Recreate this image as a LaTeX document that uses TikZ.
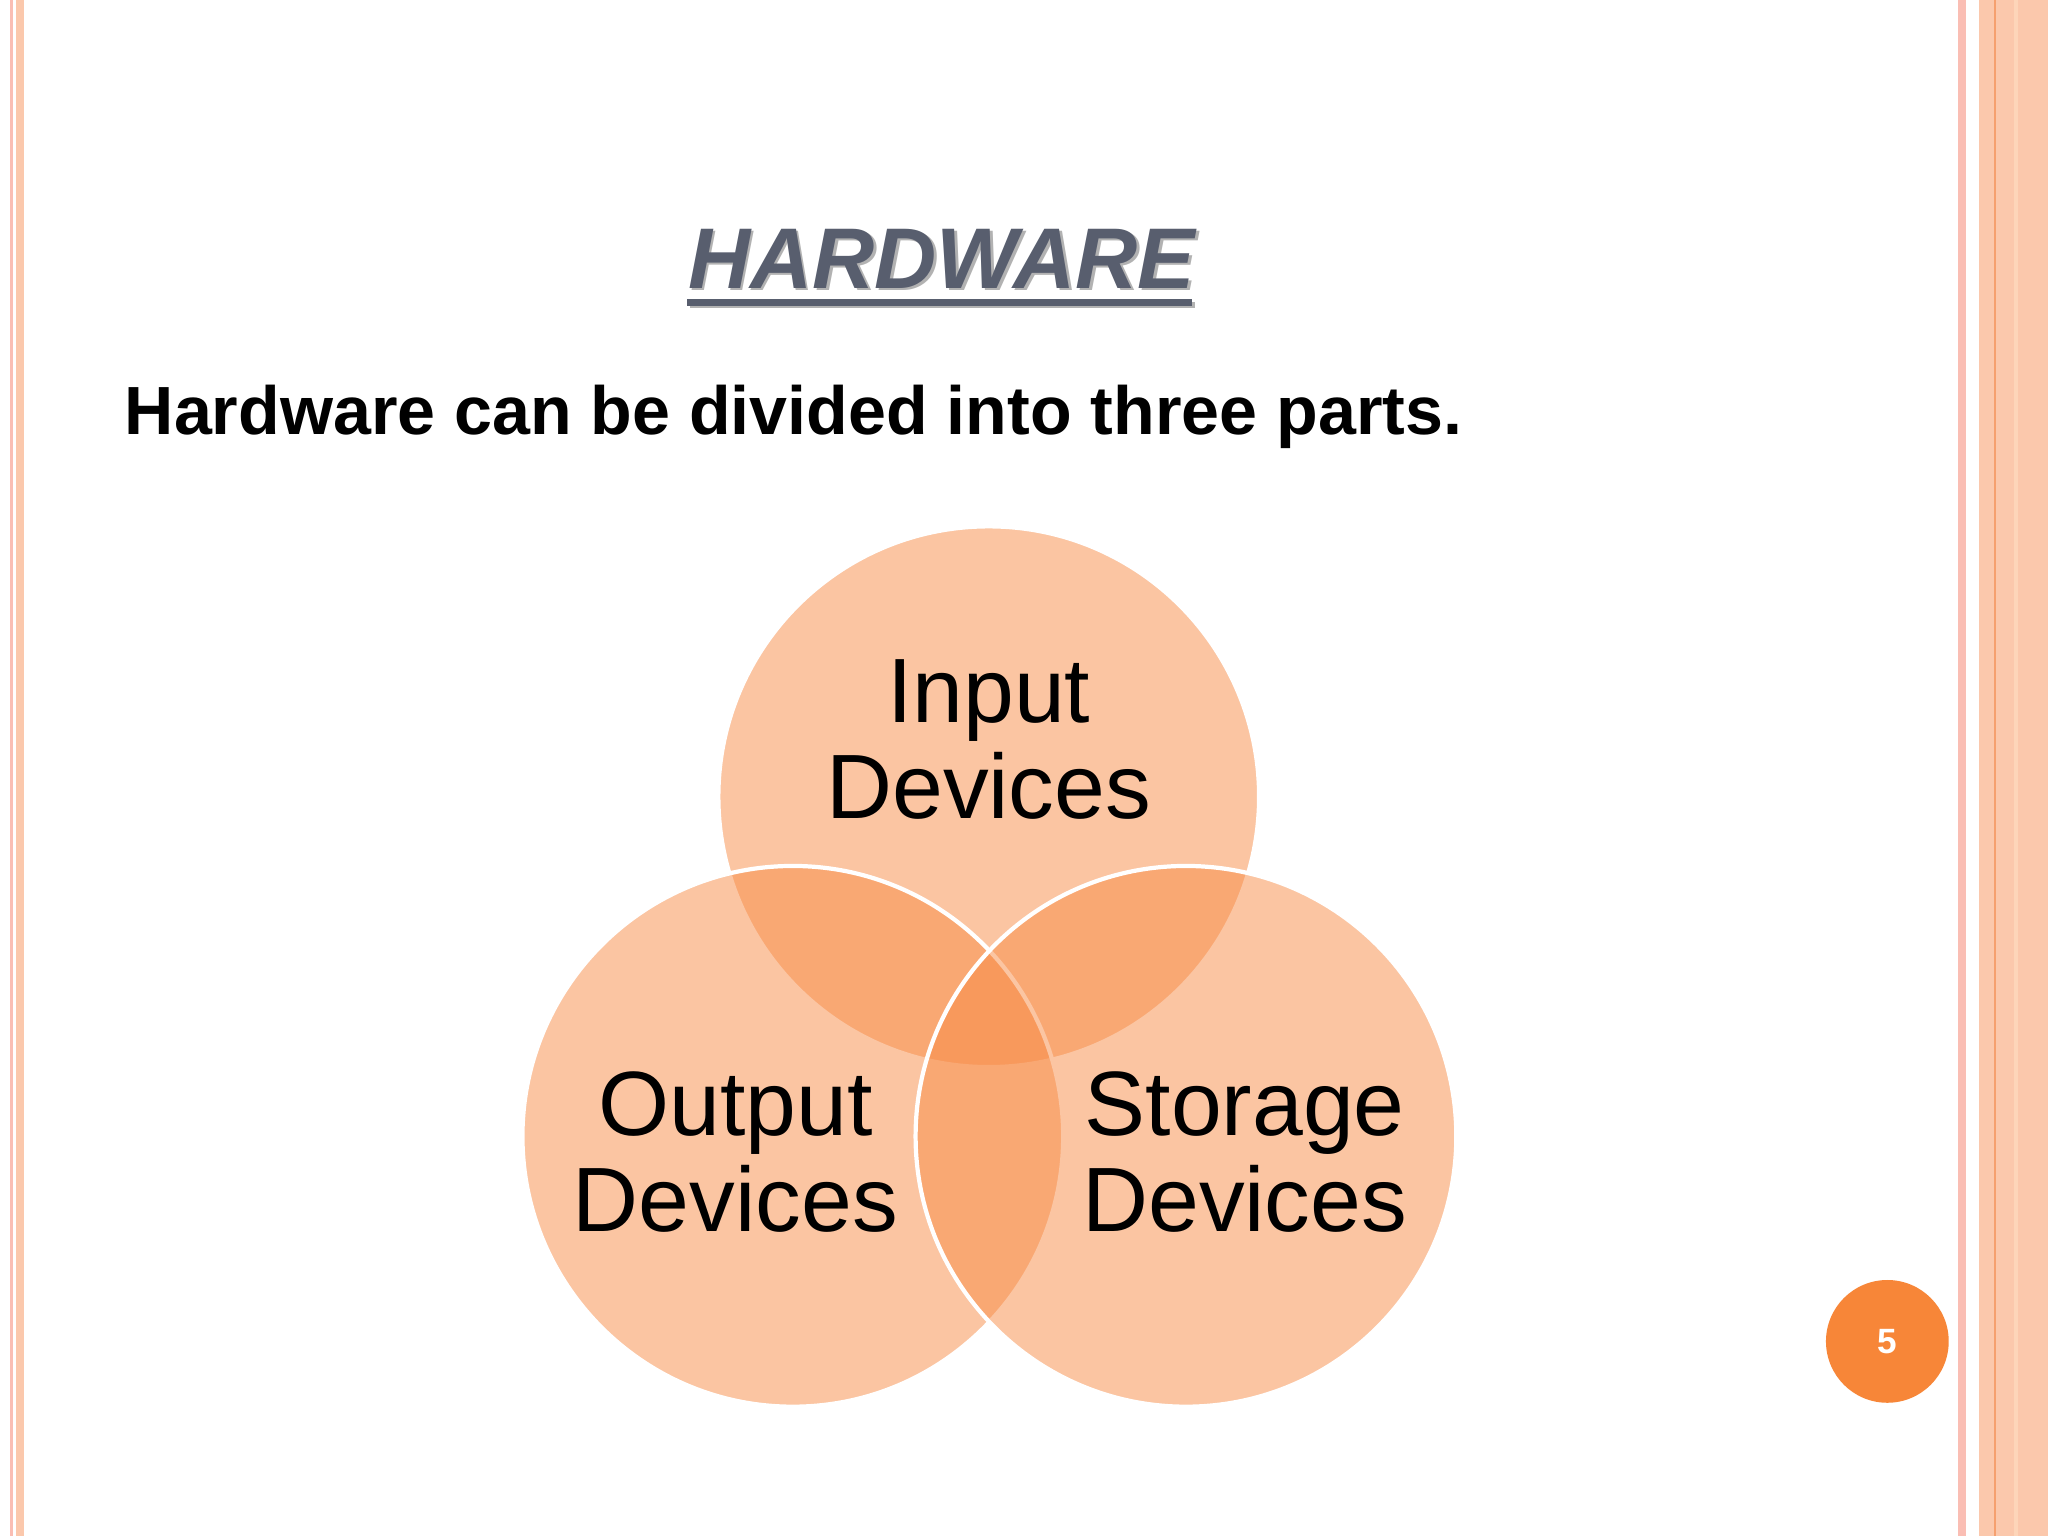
\documentclass[tikz,border=0pt]{standalone}
\usepackage{fontspec}
\setmainfont{Liberation Sans}
\definecolor{peach}{RGB}{251,200,172}
\definecolor{pinkl}{RGB}{250,190,180}
\definecolor{darkor}{RGB}{240,120,50}
\definecolor{circor}{RGB}{248,140,70}
\definecolor{numor}{RGB}{247,134,56}
\definecolor{titleg}{RGB}{88,94,110}
\tikzset{venn/.style={circle,minimum size=414\ux,fill=circor,fill opacity=0.5,draw=white,draw opacity=1,line width=1.2pt,inner sep=0pt},
lbl/.style={font=\fontsize{26}{27.4}\selectfont,align=center,text=black}}
\newlength\ux \setlength\ux{0.01306cm}
\begin{document}
\begin{tikzpicture}[x=0.01306cm,y=-0.01306cm]
\fill[white] (0,0) rectangle (1568,1176);
\useasboundingbox (0,0) rectangle (1568,1176);
% borders
\fill[pinkl] (8,0) rectangle (10,1176);
\fill[peach] (12,0) rectangle (18,1176);
\fill[pinkl] (1499,0) rectangle (1505,1176);
\fill[peach] (1515,0) rectangle (1568,1176);
\fill[darkor!70] (1527,0) rectangle (1528.5,1176);
\fill[peach!80!orange!60] (1542,0) rectangle (1545,1176);
% title
\node (ts) at (723,200) {\fontsize{24.5}{26}\selectfont\bfseries\itshape\textcolor{black!30}{HARDWARE}};
\node (t) at (721,198) {\fontsize{24.5}{26}\selectfont\bfseries\itshape\textcolor{titleg}{HARDWARE}};
\fill[black!30] (528,231) rectangle (915,236);
\fill[titleg] (526,229) rectangle (913,234);
\node[anchor=base west,inner sep=0pt] (sub) at (95,333) {\fontsize{19.4}{21}\selectfont\bfseries Hardware can be divided into three parts.};
% circles
\node[venn] (in) at (757,610) {};
\node[venn] (out) at (607,870) {};
\node[venn] (st) at (908,870) {};
\node[lbl] at (757,566) {Input\\Devices};
\node[lbl] at (563,882) {Output\\Devices};
\node[lbl] at (953,882) {Storage\\Devices};
% page number
\node[circle,fill=numor,minimum size=94\ux,inner sep=0pt,text=white,font=\fontsize{10}{11}\selectfont\bfseries] (pn) at (1445,1027) {5};
\end{tikzpicture}
\end{document}
